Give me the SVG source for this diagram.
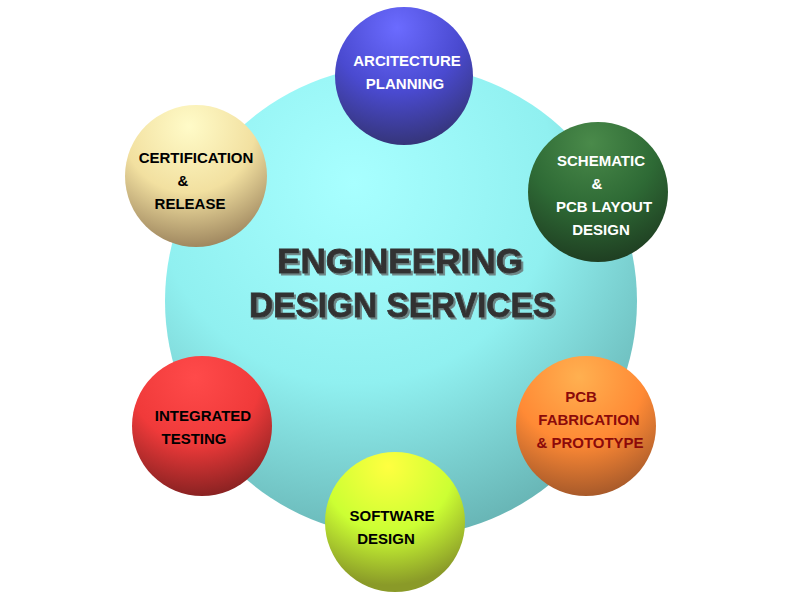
<svg xmlns="http://www.w3.org/2000/svg" width="800" height="600" viewBox="0 0 800 600">
<defs>
<radialGradient id="gBig" cx="0.4" cy="0.25" r="0.85">
<stop offset="0" stop-color="#a8ffff"/><stop offset="0.5" stop-color="#90f0f0"/><stop offset="1" stop-color="#5fa8a8"/>
</radialGradient>
<radialGradient id="gBlue" cx="0.45" cy="0.15" r="0.85">
<stop offset="0" stop-color="#6b6bff"/><stop offset="0.55" stop-color="#4a4ad0"/><stop offset="1" stop-color="#35357a"/>
</radialGradient>
<radialGradient id="gGreen" cx="0.45" cy="0.15" r="0.85">
<stop offset="0" stop-color="#4a8a4a"/><stop offset="0.55" stop-color="#2e6a35"/><stop offset="1" stop-color="#1f3f22"/>
</radialGradient>
<radialGradient id="gCream" cx="0.45" cy="0.15" r="0.85">
<stop offset="0" stop-color="#fffbc8"/><stop offset="0.55" stop-color="#f2e0a0"/><stop offset="1" stop-color="#a08860"/>
</radialGradient>
<radialGradient id="gOrange" cx="0.45" cy="0.15" r="0.85">
<stop offset="0" stop-color="#ffb050"/><stop offset="0.55" stop-color="#ff8a35"/><stop offset="1" stop-color="#a85a2a"/>
</radialGradient>
<radialGradient id="gRed" cx="0.45" cy="0.15" r="0.85">
<stop offset="0" stop-color="#ff4a4a"/><stop offset="0.55" stop-color="#f03a3a"/><stop offset="1" stop-color="#8a2222"/>
</radialGradient>
<radialGradient id="gYellow" cx="0.45" cy="0.1" r="0.85">
<stop offset="0" stop-color="#ffff40"/><stop offset="0.55" stop-color="#ccff33"/><stop offset="1" stop-color="#8a9a28"/>
</radialGradient>
<filter id="shadow" x="-5%" y="-20%" width="110%" height="140%">
<feDropShadow dx="2" dy="2" stdDeviation="0.6" flood-color="#6a7a7a" flood-opacity="0.9"/>
</filter>
<style>
.lbl{font-family:"Liberation Sans",Arial,sans-serif;font-weight:bold;font-size:15px;text-anchor:middle}
.w{fill:#ffffff}
.k{fill:#000000}
.r{fill:#8b0a0a}
.t{font-family:"Liberation Sans",Arial,sans-serif;font-weight:bold;font-size:35px;text-anchor:middle;fill:#333333;stroke:#333333;stroke-width:0.8;filter:url(#shadow)}
</style>
</defs>
<rect width="800" height="600" fill="#ffffff"/>
<g id="center">
<circle cx="401" cy="301" r="236" fill="url(#gBig)"/>
<text class="t" x="400" y="273" textLength="246" lengthAdjust="spacingAndGlyphs">ENGINEERING</text>
<text class="t" x="402" y="317" textLength="306" lengthAdjust="spacingAndGlyphs">DESIGN SERVICES</text>
</g>
<g id="connectors"></g>
<g id="architecture">
<circle cx="404" cy="76" r="69" fill="url(#gBlue)"/>
<text class="lbl w" x="407" y="66">ARCITECTURE</text>
<text class="lbl w" x="405" y="89">PLANNING</text>
</g>
<g id="schematic">
<circle cx="598" cy="192" r="70" fill="url(#gGreen)"/>
<text class="lbl w" x="601" y="166">SCHEMATIC</text>
<text class="lbl w" x="597" y="189">&amp;</text>
<text class="lbl w" x="604" y="212">PCB LAYOUT</text>
<text class="lbl w" x="601" y="235">DESIGN</text>
</g>
<g id="certification">
<circle cx="196" cy="176" r="71" fill="url(#gCream)"/>
<text class="lbl k" x="196" y="163">CERTIFICATION</text>
<text class="lbl k" x="183" y="186">&amp;</text>
<text class="lbl k" x="190" y="209">RELEASE</text>
</g>
<g id="fabrication">
<circle cx="586" cy="426" r="70" fill="url(#gOrange)"/>
<text class="lbl r" x="581" y="402">PCB</text>
<text class="lbl r" x="589" y="425">FABRICATION</text>
<text class="lbl r" x="590" y="448">&amp; PROTOTYPE</text>
</g>
<g id="testing">
<circle cx="202" cy="426" r="70" fill="url(#gRed)"/>
<text class="lbl k" x="203" y="421">INTEGRATED</text>
<text class="lbl k" x="194" y="444">TESTING</text>
</g>
<g id="software">
<circle cx="395" cy="522" r="70" fill="url(#gYellow)"/>
<text class="lbl k" x="392" y="521">SOFTWARE</text>
<text class="lbl k" x="386" y="544">DESIGN</text>
</g>
</svg>
